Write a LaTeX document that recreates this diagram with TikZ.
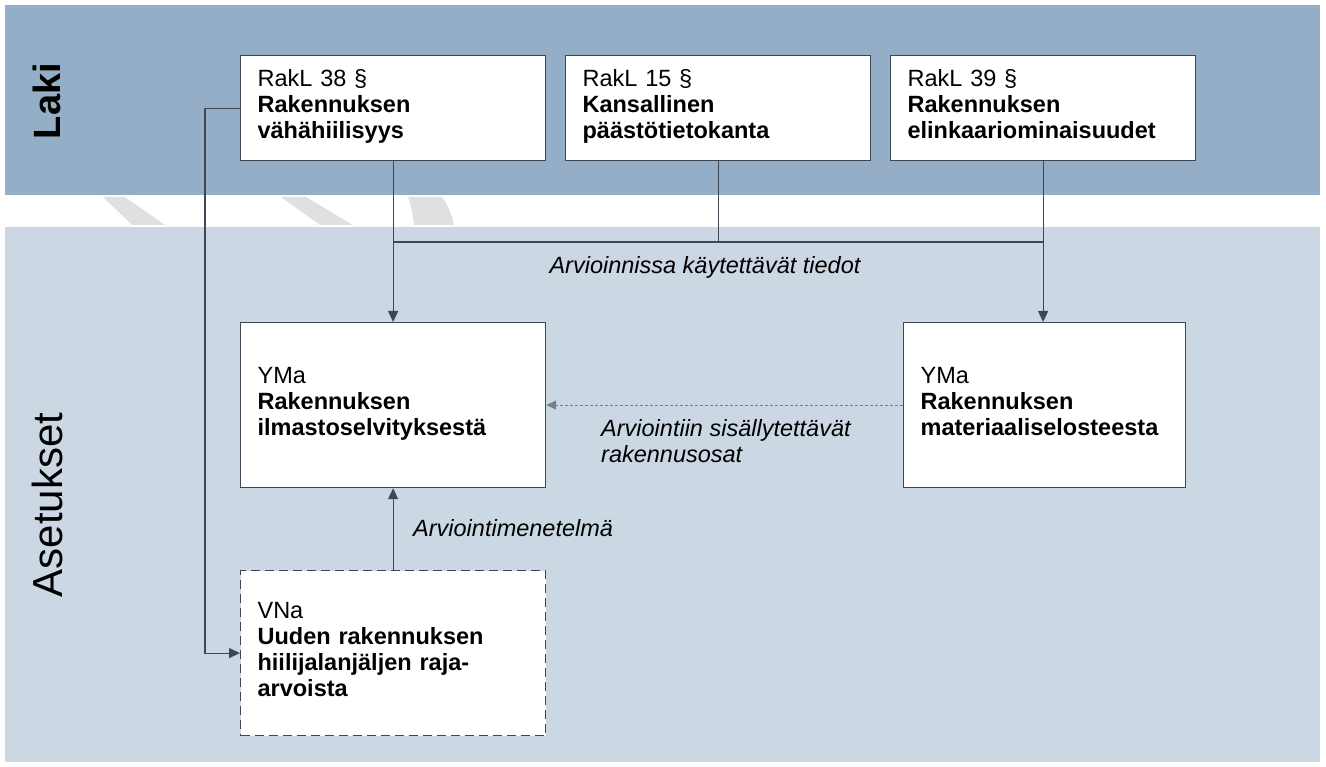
\documentclass[tikz,border=0pt]{standalone}
\usepackage{fontspec}
\setmainfont{Liberation Sans}
\usetikzlibrary{arrows.meta,positioning}

\definecolor{lakiband}{RGB}{148,174,199}
\definecolor{asetusband}{RGB}{203,216,228}
\definecolor{boxline}{RGB}{62,72,84}
\definecolor{wmgrey}{RGB}{224,224,224}
\newcommand{\boxfont}{\fontsize{23.5}{26}\selectfont}

\tikzset{
    lawbox/.style={draw=boxline, fill=white, line width=1.2pt, anchor=north west,
        minimum width=305pt, minimum height=105pt, inner xsep=17pt, text width=271pt,
        align=left, font=\boxfont},
    rulebox/.style={lawbox, minimum height=165pt},
    arr/.style={draw=boxline, line width=1.1pt, -{Triangle[length=11pt,width=10pt]}},
    link/.style={draw=boxline, line width=1.1pt},
    dotarr/.style={draw=boxline!70, line width=1pt, dash pattern=on 3pt off 2pt, -{Triangle[length=10pt,width=9pt]}},
    edgelabel/.style={font=\boxfont\itshape, inner sep=0pt},
}

\begin{document}
\begin{tikzpicture}[x=1pt,y=-1pt]
    \useasboundingbox (0,0) rectangle (1326,767);
    % taustat
    \fill[lakiband] (5,5) rectangle (1320,195);
    \fill[asetusband] (5,227) rectangle (1320,762);
    \fill[wmgrey] (103,197) -- (125,197) -- (165,225) -- (132,225) -- cycle;
    \fill[wmgrey] (281,197) -- (306,197) -- (353,225) -- (320,225) -- cycle;
    \fill[wmgrey] (408,197) -- (442,197) .. controls (448,205) and (452,215) .. (454,225) -- (414,225) .. controls (413,215) and (411,205) .. (408,197) -- cycle;
    \node[rotate=90, font=\fontsize{38}{40}\selectfont\bfseries] (laki) at (47,101) {Laki};
    \node[rotate=90, font=\fontsize{42}{46}\selectfont] (asetukset) at (47,505) {Asetukset};

    % laki
    \node[lawbox] (rak38) at (240,55) {RakL 38 §\\\textbf{Rakennuksen}\\\textbf{vähähiilisyys}\strut};
    \node[lawbox] (rak15) at (565,55) {RakL 15 §\\\textbf{Kansallinen}\\\textbf{päästötietokanta}\strut};
    \node[lawbox] (rak39) at (890,55) {RakL 39 §\\\textbf{Rakennuksen}\\\textbf{elinkaariominaisuudet}\strut};

    % asetukset
    \node[rulebox] (yma1) at (240,322) {YMa\\\textbf{Rakennuksen}\\\textbf{ilmastoselvityksestä}\strut};
    \node[rulebox, minimum width=282pt, text width=248pt] (yma2) at (903,322) {YMa\\\textbf{Rakennuksen}\\\textbf{materiaaliselosteesta}\strut};
    \node[rulebox, dash pattern=on 9pt off 5pt] (vna) at (240,570) {VNa\\\textbf{Uuden rakennuksen}\\\textbf{hiilijalanjäljen raja-}\\\textbf{arvoista}\strut};

    % yhteydet
    \coordinate (tiedot) at (0,242);
    \draw[link] (rak38.south |- tiedot) -- (rak39.south |- tiedot);
    \draw[link] (rak15.south) -- (rak15.south |- tiedot);
    \draw[arr] (rak38.south) -- (yma1.north);
    \draw[arr] (rak39.south) -- (rak39.south |- yma2.north);
    \draw[arr] (rak38.west) -- ++(-35,0) |- (vna.west);
    \draw[dotarr] (yma2.west) -- (yma1.east);
    \draw[arr] (vna.north) -- (yma1.south);

    \node[edgelabel] (tiedotlabel) at (705,267) {Arvioinnissa käytettävät tiedot};
    \node[edgelabel, anchor=north west, align=left] (osatlabel) at (601,419) {Arviointiin sisällytettävät\\rakennusosat};
    \node[edgelabel, anchor=west] (menetelmalabel) at (413,528) {Arviointimenetelmä};
\end{tikzpicture}
\end{document}
